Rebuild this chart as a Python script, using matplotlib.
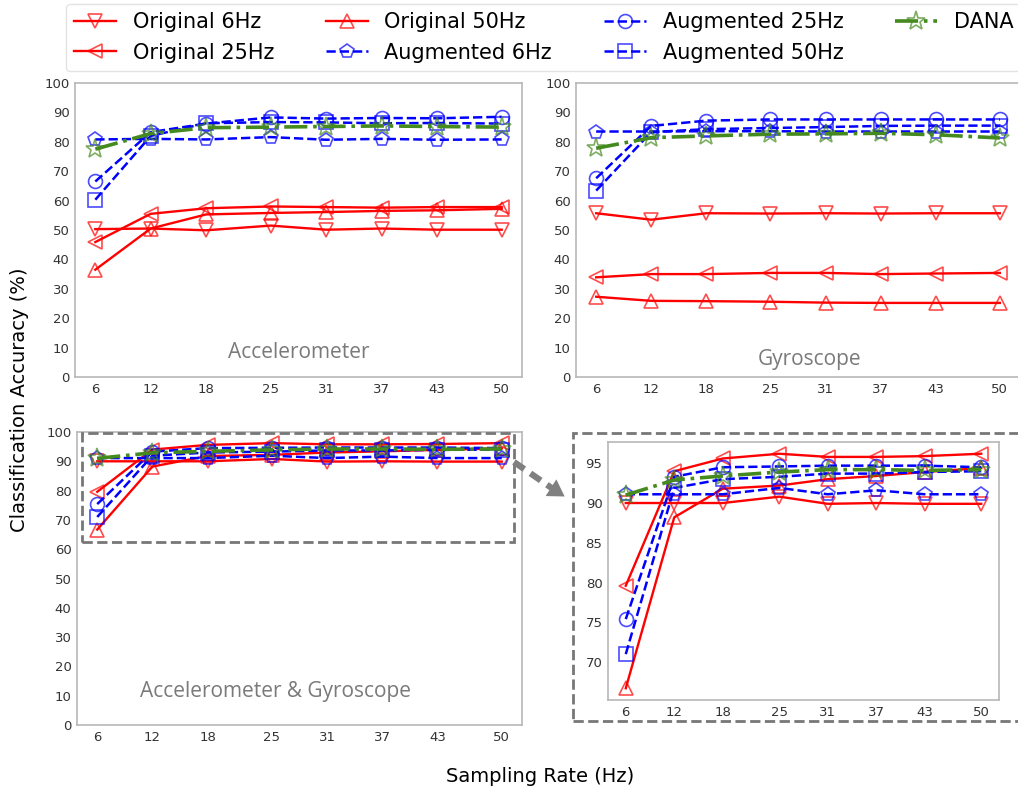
import matplotlib
matplotlib.use("Agg")
import matplotlib.pyplot as plt
from matplotlib.lines import Line2D
from matplotlib.patches import Rectangle, FancyArrowPatch

# sampling rates (Hz)
rates = [6, 12, 18, 25, 31, 37, 43, 50]

# Accelerometer
acc_orig6 = [50.3, 50.5, 49.9, 51.5, 50.1, 50.5, 50.1, 50.1]
acc_orig25 = [45.9, 55.5, 57.4, 58.0, 57.8, 57.6, 57.8, 57.8]
acc_orig50 = [36.5, 50.5, 55.3, 55.8, 56.1, 56.5, 56.7, 57.2]
acc_aug6 = [80.8, 81.0, 80.8, 81.6, 80.7, 81.0, 80.7, 80.8]
acc_aug25 = [66.5, 83.3, 86.2, 88.3, 87.9, 88.1, 88.0, 88.5]
acc_aug50 = [60.3, 82.0, 86.3, 86.7, 86.6, 86.3, 86.4, 86.2]
acc_dana = [77.5, 82.8, 84.8, 85.0, 85.2, 85.4, 85.2, 85.0]

# Gyroscope
gyr_orig6 = [55.7, 53.5, 55.7, 55.6, 55.7, 55.6, 55.7, 55.7]
gyr_orig25 = [33.9, 35.0, 35.0, 35.4, 35.4, 35.0, 35.2, 35.4]
gyr_orig50 = [27.3, 25.9, 25.8, 25.6, 25.3, 25.2, 25.2, 25.2]
gyr_aug6 = [83.5, 83.5, 83.6, 83.6, 83.5, 83.5, 83.5, 83.5]
gyr_aug25 = [67.6, 85.4, 87.2, 87.6, 87.6, 87.6, 87.6, 87.6]
gyr_aug50 = [63.4, 83.3, 84.3, 84.7, 85.0, 85.4, 85.5, 85.5]
gyr_dana = [77.8, 81.4, 82.0, 82.6, 82.7, 82.9, 82.4, 81.3]

# Accelerometer & Gyroscope
both_orig6 = [90.0, 90.0, 90.0, 90.8, 89.9, 90.0, 89.9, 89.9]
both_orig25 = [79.6, 94.0, 95.6, 96.2, 95.8, 95.8, 95.9, 96.2]
both_orig50 = [66.7, 88.2, 91.8, 92.2, 93.0, 93.4, 93.9, 94.4]
both_aug6 = [91.1, 91.1, 91.1, 91.9, 91.1, 91.6, 91.1, 91.1]
both_aug25 = [75.4, 93.3, 94.5, 94.6, 94.7, 94.7, 94.7, 94.5]
both_aug50 = [71.0, 91.9, 93.0, 93.3, 93.7, 93.7, 93.9, 94.0]
both_dana = [91.0, 92.9, 93.4, 93.9, 94.2, 94.2, 94.1, 94.2]

labels = ["Original 6Hz", "Original 25Hz", "Original 50Hz",
          "Augmented 6Hz", "Augmented 25Hz", "Augmented 50Hz", "DANA"]

red = (1.0, 0.0, 0.0)
blue = (0.0, 0.0, 1.0)
green = "#448a1f"

styles = [
    dict(color=red, ls="-", marker="v", lw=1.7),
    dict(color=red, ls="-", marker="<", lw=1.7),
    dict(color=red, ls="-", marker="^", lw=1.7),
    dict(color=blue, ls="--", marker="p", lw=1.8),
    dict(color=blue, ls="--", marker="o", lw=1.8),
    dict(color=blue, ls="--", marker="s", lw=1.8),
    dict(color=green, ls="-.", marker="*", lw=2.6),
]

panels = [
    [acc_orig6, acc_orig25, acc_orig50, acc_aug6, acc_aug25, acc_aug50, acc_dana],
    [gyr_orig6, gyr_orig25, gyr_orig50, gyr_aug6, gyr_aug25, gyr_aug50, gyr_dana],
    [both_orig6, both_orig25, both_orig50, both_aug6, both_aug25, both_aug50, both_dana],
]

W, H = 1018, 793


def box(left, top, right, bottom):
    return [left / W, 1 - bottom / H, (right - left) / W, (bottom - top) / H]


fig = plt.figure(figsize=(W / 100, H / 100), dpi=100)
ax1 = fig.add_axes(box(75, 83, 522, 377))
ax2 = fig.add_axes(box(576, 83, 1020, 377))
ax3 = fig.add_axes(box(77, 432, 522, 725))
ax4 = fig.add_axes(box(608, 442, 999, 700))


def draw(ax, series, ms=10):
    handles = []
    for vals, st in zip(series, styles):
        c = st["color"]
        mec = matplotlib.colors.to_rgba(c, 0.7)
        h, = ax.plot(rates, vals, color=c, ls=st["ls"], lw=st["lw"],
                     marker=st["marker"], markersize=ms + (4 if st["marker"] == "*" else 0),
                     markerfacecolor="none", markeredgecolor=mec, markeredgewidth=1.2)
        handles.append(h)
    ax.set_xticks(rates)
    ax.tick_params(length=0, labelsize=9.5, labelcolor="#333333", pad=4)
    for s in ax.spines.values():
        s.set_color("#b8b8b8")
        s.set_linewidth(1.2)
    return handles


handles = draw(ax1, panels[0])
draw(ax2, panels[1])
draw(ax3, panels[2])
draw(ax4, panels[2])

for ax in (ax1, ax2, ax3):
    ax.set_ylim(0, 100)
    ax.set_yticks(range(0, 101, 10))
ax4.set_yticks([70, 75, 80, 85, 90, 95])

txt = dict(fontsize=15, color="#7a7a7a", family="Open Sans", ha="center", va="center")
ax1.text(0.5, 0.082, "Accelerometer", transform=ax1.transAxes, **txt)
ax2.text(0.527, 0.061, "Gyroscope", transform=ax2.transAxes, **txt)
ax3.text(0.445, 0.113, "Accelerometer & Gyroscope", transform=ax3.transAxes, **txt)

# zoom region in the combined panel
ax3.add_patch(Rectangle((4.35, 62.5), 47.0, 37.2, fill=False, ec="#777777",
                        lw=2, ls="--", clip_on=False, zorder=5))

# frame around the inset
fig.add_artist(Rectangle((573 / W, 1 - 721 / H), 460 / W, 288 / H, fill=False,
                         ec="#777777", lw=2, ls="--", transform=fig.transFigure))

# arrow from zoom box to inset
fig.add_artist(Line2D([514 / W, 556 / W], [1 - 462 / H, 1 - 491 / H], color="#808080",
                      lw=4.5, ls=(0, (2, 1.2)), transform=fig.transFigure))
fig.add_artist(FancyArrowPatch((553 / W, 1 - 489 / H), (567 / W, 1 - 498 / H),
                               transform=fig.transFigure, color="#808080",
                               arrowstyle="-|>,head_length=0.9,head_width=0.55",
                               mutation_scale=13, lw=0))

fig.legend(handles, labels, loc="upper left", bbox_to_anchor=(66 / W, 1 - 4 / H),
           ncol=4, fontsize=15, numpoints=1, frameon=True, edgecolor="#dddddd",
           handlelength=2.0, columnspacing=2.5, labelspacing=0.5,
           borderaxespad=0)

fig.text(20 / W, 1 - 400 / H, "Classification Accuracy (%)", rotation=90,
         ha="center", va="center", fontsize=14)
fig.text(540 / W, 1 - 776 / H, "Sampling Rate (Hz)", ha="center", va="center", fontsize=14)

fig.savefig("out.png", dpi=100)
